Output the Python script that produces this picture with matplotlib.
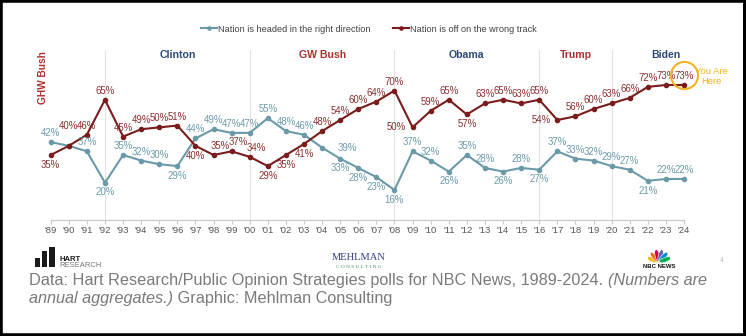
import math
import matplotlib
matplotlib.use("Agg")
import matplotlib.pyplot as plt
from matplotlib.lines import Line2D
from matplotlib.patches import Rectangle, Ellipse

plt.rcParams['font.family'] = ['Liberation Sans', 'DejaVu Sans']

# ---------------- data ----------------
years = list(range(1989, 2025))
tick_labels = ["'" + str(y)[2:] for y in years]
right_direction = [42, 40, 37, 20, 35, 32, 30, 29, 44, 49, 47, 47, 55, 48, 46, 39, 33, 28, 23, 16,
                   37, 32, 26, 35, 28, 26, 28, 27, 37, 33, 32, 29, 27, 21, 22, 22]
wrong_track = [35, 40, 46, 65, 45, 49, 50, 51, 40, 35, 37, 34, 29, 35, 41, 48, 54, 60, 64, 70,
               50, 59, 65, 57, 63, 65, 63, 65, 54, 56, 60, 63, 66, 72, 73, 73]
# label placement codes (a=above, b=below, l=left, r=right, h=high above, n=none, s=above-right)
right_pos = ['a', 'n', 'a', 'b', 'a', 'a', 'a', 'b', 'a', 'a', 'a', 'a', 'a', 'a', 'a', 'r', 'b', 'b', 'b', 'b',
             'a', 'a', 'b', 'a', 'a', 'b', 'a', 'b', 'a', 'a', 'a', 'a', 'a', 'b', 'a', 'a']
wrong_pos = ['b', 'h', 'a', 'a', 'a', 'a', 'a', 'a', 'b', 's', 's', 's', 'b', 'b', 'b', 'a', 'a', 'a', 'a', 'a',
             'l', 'a', 'a', 'b', 'a', 'a', 'a', 'a', 'l', 'a', 'a', 'a', 'a', 'a', 'a', 'a']
presidents = ['Clinton', 'GW Bush', 'Obama', 'Trump', 'Biden']
president_x = [1996, 2004, 2012, 2018, 2023]
president_party = ['D', 'R', 'D', 'R', 'D']
dividers = [1992, 2000, 2008, 2016, 2020]
series_names = ['Nation is headed in the right direction', 'Nation is off on the wrong track']
feather_colors = ['#fcb711', '#f37021', '#cc004c', '#6460aa', '#0089d0', '#0db14b']

# ---------------- style ----------------
BLUE = '#6a9aa8'
BLUE_T = '#6b9aaa'
RED = '#7a1c1c'
RED_T = '#8b2f2f'
NAVY = '#2d4a76'
REPRED = '#b0302e'
GOLD = '#f3b221'
NARROW = ['Liberation Sans Narrow', 'Liberation Sans', 'DejaVu Sans']

W, H = 746, 336
fig = plt.figure(figsize=(W / 100, H / 100), dpi=100)
fig.patch.set_facecolor('white')

def fx(px):
    return px / W

def fy(py):
    return 1 - py / H

ax = fig.add_axes([fx(50.7), fy(219.5), (684 - 50.7) / W, (219.5 - 50) / H])
ax.set_xlim(1989, 2024)
ax.set_ylim(0, 92)
for s in ['top', 'right', 'left']:
    ax.spines[s].set_visible(False)
ax.spines['bottom'].set_color('#c8c8c8')
ax.spines['bottom'].set_linewidth(0.8)
ax.set_yticks([])
ax.set_xticks(years)
ax.set_xticklabels(tick_labels, fontsize=6.8, color='#555555')
ax.tick_params(axis='x', length=3, color='#c8c8c8', pad=2)
ax.patch.set_alpha(0)

for d in dividers:
    ax.axvline(d, color='#e2e2e2', lw=0.8, zorder=0)

ax.plot(years, right_direction, color=BLUE, lw=1.5, marker='o', ms=3, clip_on=False, zorder=3)
ax.plot(years, wrong_track, color=RED, lw=1.5, marker='o', ms=3, clip_on=False, zorder=3)

offsets = {'a': (0, 6.5), 'b': (0, -7), 'l': (-11.5, 0), 'r': (18, 0), 'h': (0, 14), 's': (5, 6.5)}

def label_series(vals, pos, color):
    for x, v, p in zip(years, vals, pos):
        if p == 'n':
            continue
        ax.annotate(f'{v}%', (x, v), xytext=offsets[p], textcoords='offset points',
                    ha='center', va='center', fontsize=6.9, color=color, zorder=4,
                    annotation_clip=False)

label_series(right_direction, right_pos, BLUE_T)
label_series(wrong_track, wrong_pos, RED_T)

for name, x, party in zip(presidents, president_x, president_party):
    ax.text(x, 89.4, name, ha='center', va='center', fontsize=7.6, fontweight='bold',
            color=NAVY if party == 'D' else REPRED)
ax.text(1988.6, 77, 'GHW Bush', rotation=90, ha='center', va='center', fontsize=7.3,
        fontweight='bold', color=REPRED, clip_on=False)

# You Are Here
ax.plot([years[-1]], [78.5], marker='o', ms=19.5, mfc='none', mec=GOLD, mew=1.5, clip_on=False, zorder=5)
fig.text(fx(711), fy(76.5), 'You Are\nHere', ha='center', va='center', fontsize=6.8,
         color=GOLD, linespacing=1.05, family=NARROW)

# legend
handles = [Line2D([], [], color=BLUE, lw=1.5, marker='o', ms=2.3),
           Line2D([], [], color=RED, lw=1.5, marker='o', ms=2.3)]
fig.legend(handles, series_names, loc='center', bbox_to_anchor=(fx(369), fy(29)), ncol=2,
           frameon=False, fontsize=6.6, handlelength=1.75, handletextpad=0.1, columnspacing=2.4,
           labelcolor='#404040')

# ---------------- logos ----------------
for x0, x1, ytop in [(35, 40, 258), (42, 47, 251), (49, 55, 247)]:
    fig.patches.append(Rectangle((fx(x0), fy(267)), (x1 - x0) / W, (267 - ytop) / H,
                                 transform=fig.transFigure, facecolor='#1a1a1a', edgecolor='none'))
fig.text(fx(59), fy(259.5), 'HART', fontsize=5.5, fontweight='bold', color='#1a1a1a', va='center')
fig.text(fx(59), fy(265.5), 'RESEARCH', fontsize=5.5, color='#777777', va='center')

fig.text(fx(358.5), fy(257.5), 'MEHLMAN', fontsize=7.6, family=['Liberation Serif', 'DejaVu Serif'],
         color='#2d3f86', ha='center', va='center')
fig.text(fx(358.5), fy(266.5), 'C O N S U L T I N G', fontsize=3.8, family=['Liberation Serif', 'DejaVu Serif'],
         color='#3f8a5a', ha='center', va='center')

pax = fig.add_axes([fx(648), fy(263), 22 / W, 16 / H])
pax.set_xlim(-11, 11)
pax.set_ylim(-1, 15)
pax.set_aspect('equal', adjustable='datalim')
pax.axis('off')
n = len(feather_colors)
for i, c in enumerate(feather_colors):
    ang = 160 - i * (140 / (n - 1))
    r = 6.5
    ex = r * math.cos(math.radians(ang))
    ey = r * math.sin(math.radians(ang))
    pax.add_patch(Ellipse((ex, ey), 4.6, 12.5, angle=ang - 90, facecolor=c, edgecolor='white', lw=0.4))
fig.text(fx(659.5), fy(266), 'NBC NEWS', fontsize=4.3, fontweight='bold', color='#111111',
         ha='center', va='center', family=NARROW)
fig.text(fx(722), fy(260), '4', fontsize=5, color='#bbbbbb', ha='center', va='center')

# ---------------- caption ----------------
CAP = '#7a7a7a'
line1a = 'Data: Hart Research/Public Opinion Strategies polls for NBC News, 1989-2024. '
line1b = '(Numbers are'
line2a = 'annual aggregates.)'
line2b = ' Graphic: Mehlman Consulting'

cs = 11.6
renderer = fig.canvas.get_renderer()
probe_a = fig.text(0, 0, line1a, fontsize=cs)
probe_b = fig.text(0, 0, line1b, fontsize=cs, style='italic')
wsum = probe_a.get_window_extent(renderer).width + probe_b.get_window_extent(renderer).width
probe_a.remove()
probe_b.remove()
cs = cs * 676 / wsum

t1 = fig.text(fx(29), fy(281), line1a, fontsize=cs, color=CAP, va='center')
fig.canvas.draw()
plt.annotate(line1b, xy=(1, 0), xycoords=t1, va='bottom', ha='left', fontsize=cs,
             color=CAP, style='italic')
t3 = fig.text(fx(29), fy(299), line2a, fontsize=cs, color=CAP, va='center', style='italic')
plt.annotate(line2b, xy=(1, 0), xycoords=t3, va='bottom', ha='left', fontsize=cs, color=CAP)

# frame
fig.patches.append(Rectangle((0, 0), 1, 1, transform=fig.transFigure, fill=False,
                             edgecolor='black', lw=4, clip_on=False))
fig.patches.append(Rectangle((fx(743), 0), 3 / W, 1, transform=fig.transFigure,
                             facecolor='black', edgecolor='none'))

fig.savefig('out.png', dpi=100, facecolor='white')
